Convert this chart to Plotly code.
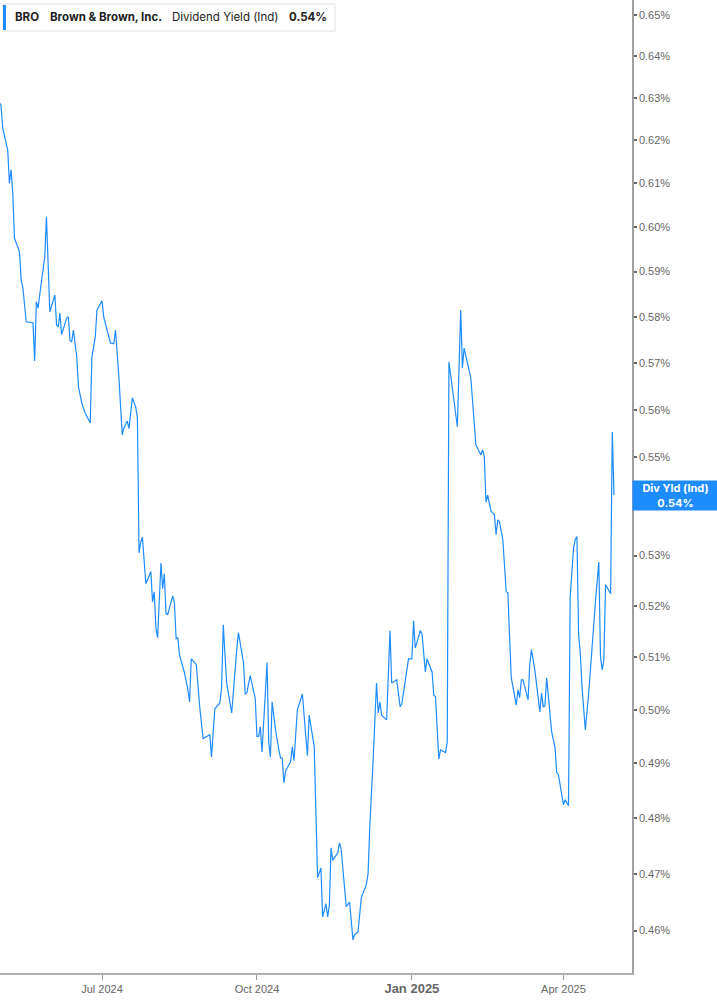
import numpy as np
import pandas as pd
import plotly.graph_objects as go

# BRO dividend yield (indicated), %
start_date = "2024-05-01"
days_since_start = [
    0, 1, 2, 5, 6, 7, 8, 9, 12, 13, 14, 16, 20, 21, 22, 23, 25, 27, 28, 30,
    33, 34, 35, 36, 37, 40, 41, 42, 43, 44, 46, 47, 49, 51, 54, 55, 57, 58, 61, 62,
    64, 66, 68, 69, 71, 73, 74, 76, 77, 79, 81, 82, 83, 84, 85, 87, 90, 91, 92, 93,
    94, 96, 97, 98, 99, 100, 103, 104, 105, 106, 107, 110, 112, 113, 114, 117, 119, 121, 125, 126,
    128, 131, 132, 133, 135, 138, 141, 142, 145, 146, 147, 149, 152, 153, 154, 155, 156, 159, 160, 161,
    162, 164, 166, 167, 168, 169, 170, 173, 174, 175, 177, 180, 182, 183, 184, 187, 189, 191, 192, 194,
    195, 196, 197, 198, 201, 202, 203, 206, 208, 210, 211, 213, 215, 218, 219, 220, 222, 224, 225, 226,
    227, 230, 232, 233, 236, 238, 239, 241, 243, 245, 246, 247, 250, 251, 253, 254, 257, 258, 259, 261,
    262, 265, 266, 267, 269, 272, 274, 275, 276, 280, 283, 285, 286, 287, 288, 289, 290, 292, 294, 295,
    296, 297, 299, 301, 302, 304, 307, 308, 309, 310, 311, 314, 315, 316, 318, 321, 322, 323, 324, 325,
    328, 330, 331, 332, 335, 336, 338, 339, 341, 342, 343, 344, 345, 346, 348, 350, 352, 354, 356, 357,
    358, 359, 360, 363, 364, 365,
]
div_yield = [
    0.6288, 0.6283, 0.6229, 0.6177, 0.6100, 0.6131, 0.6078, 0.5975, 0.5944, 0.5881,
    0.5864, 0.5789, 0.5787, 0.5704, 0.5833, 0.5819, 0.5877, 0.5933, 0.6023, 0.5811,
    0.5848, 0.5782, 0.5778, 0.5808, 0.5761, 0.5797, 0.5800, 0.5748, 0.5745, 0.5771,
    0.5713, 0.5649, 0.5614, 0.5593, 0.5572, 0.5713, 0.5756, 0.5815, 0.5835, 0.5800,
    0.5771, 0.5743, 0.5741, 0.5771, 0.5670, 0.5547, 0.5562, 0.5576, 0.5560, 0.5625,
    0.5606, 0.5583, 0.5305, 0.5327, 0.5337, 0.5244, 0.5268, 0.5208, 0.5228, 0.5157,
    0.5138, 0.5285, 0.5234, 0.5264, 0.5185, 0.5183, 0.5220, 0.5206, 0.5136, 0.5138,
    0.5105, 0.5070, 0.5038, 0.5015, 0.5097, 0.5086, 0.5006, 0.4946, 0.4953, 0.4912,
    0.5002, 0.5013, 0.5042, 0.5163, 0.5051, 0.4994, 0.5115, 0.5148, 0.5090, 0.5030,
    0.5032, 0.5065, 0.5021, 0.4950, 0.4950, 0.4968, 0.4921, 0.5090, 0.4938, 0.4912,
    0.5015, 0.4963, 0.4925, 0.4910, 0.4910, 0.4864, 0.4886, 0.4903, 0.4931, 0.4905,
    0.5000, 0.5030, 0.4950, 0.4914, 0.4990, 0.4931, 0.4693, 0.4710, 0.4624, 0.4647,
    0.4624, 0.4645, 0.4746, 0.4724, 0.4737, 0.4755, 0.4744, 0.4642, 0.4650, 0.4584,
    0.4593, 0.4598, 0.4658, 0.4681, 0.4701, 0.4784, 0.4907, 0.5051, 0.4994, 0.5015,
    0.4990, 0.4981, 0.5152, 0.5051, 0.5057, 0.5006, 0.5011, 0.5057, 0.5097, 0.5097,
    0.5171, 0.5118, 0.5152, 0.5146, 0.5072, 0.5097, 0.5072, 0.5028, 0.5025, 0.4908,
    0.4925, 0.4920, 0.4940, 0.5702, 0.5649, 0.5564, 0.5815, 0.5689, 0.5732, 0.5668,
    0.5526, 0.5512, 0.5505, 0.5516, 0.5501, 0.5408, 0.5422, 0.5390, 0.5382, 0.5342,
    0.5372, 0.5368, 0.5332, 0.5228, 0.5226, 0.5061, 0.5009, 0.5038, 0.5023, 0.5057,
    0.5057, 0.5019, 0.5086, 0.5115, 0.5076, 0.4996, 0.5032, 0.5006, 0.5007, 0.5061,
    0.4959, 0.4929, 0.4883, 0.4879, 0.4824, 0.4833, 0.4822, 0.5218, 0.5315, 0.5332,
    0.5338, 0.5144, 0.5109, 0.5044, 0.4962, 0.5032, 0.5130, 0.5208, 0.5287, 0.5101,
    0.5076, 0.5095, 0.5242, 0.5224, 0.5553, 0.5422,
]

y_ticks = [0.46, 0.47, 0.48, 0.49, 0.50, 0.51, 0.52, 0.53, 0.54, 0.55,
           0.56, 0.57, 0.58, 0.59, 0.60, 0.61, 0.62, 0.63, 0.64, 0.65]
x_ticks = ["2024-07-01", "2024-10-01", "2025-01-01", "2025-04-01"]
x_tick_labels = ["Jul 2024", "Oct 2024",
                 "<span style='font-size:13px'><b>Jan 2025</b></span>", "Apr 2025"]

dates = pd.Timestamp(start_date) + pd.to_timedelta(days_since_start, unit="D")
last_val = div_yield[-1]

blue = "#1e8cff"

fig = go.Figure()
fig.add_trace(go.Scatter(x=dates, y=div_yield, mode="lines",
                         line=dict(color=blue, width=1.2),
                         hoverinfo="skip", showlegend=False))

fig.update_layout(
    width=717, height=1005,
    margin=dict(l=0, r=85, t=0, b=32),
    plot_bgcolor="white", paper_bgcolor="white",
    font=dict(family="Liberation Sans, Arial", size=11, color="#666"),
    showlegend=False,
)

fig.update_xaxes(
    type="date",
    range=["2024-05-01 10:00", "2025-05-11 17:00"],
    tickvals=x_ticks, ticktext=x_tick_labels,
    showgrid=False, zeroline=False,
    showline=True, linecolor="#b0b0b0", linewidth=2,
    ticks="outside", ticklen=5, tickcolor="#999", tickwidth=1,
    tickfont=dict(size=11, color="#666"),
)

fig.update_yaxes(
    type="log", side="right",
    range=[np.log10(0.4527), np.log10(0.6537)],
    tickvals=y_ticks, ticktext=[f"{v:.2f}%" for v in y_ticks],
    showgrid=False, zeroline=False,
    showline=True, linecolor="#a0a0a0", linewidth=1.5,
    ticks="outside", ticklen=3, tickcolor="#666", tickwidth=1.5,
    tickfont=dict(size=11, color="#666"),
)

# header box, top left
fig.add_shape(type="rect", xref="paper", yref="paper",
              x0=3 / 632, x1=335 / 632, y0=1 - 31 / 973, y1=1 - 4 / 973,
              line=dict(color="#e2e2e2", width=1), fillcolor="white", layer="above")
fig.add_shape(type="rect", xref="paper", yref="paper",
              x0=3 / 632, x1=6 / 632, y0=1 - 30 / 973, y1=1 - 5 / 973,
              line=dict(width=0), fillcolor=blue, layer="above")

header = [
    (13, "<b>BRO</b>"),
    (48, "<b>Brown & Brown, Inc.</b>"),
    (170, "Dividend Yield (Ind)"),
    (287, "<b>0.54%</b>"),
]
for px, txt in header:
    fig.add_annotation(x=px / 632, y=1 - 17 / 973, xref="paper", yref="paper",
                       text=txt, showarrow=False, xanchor="left", yanchor="middle",
                       font=dict(family="Inter, Roboto, Arial", size=11.5, color="#222"))

# current value flag on the right axis
fig.add_annotation(x=1, y=np.log10(last_val), xref="paper", yref="y",
                   text=f"<b>Div Yld (Ind)</b><br><b>{last_val:.2f}%</b>",
                   showarrow=False, xanchor="left", yanchor="middle",
                   width=83, height=27, borderpad=1, align="center",
                   bgcolor=blue, font=dict(family="Inter, Roboto, Arial", size=11, color="white"))

fig.write_html("out.html", config={"displayModeBar": False},
               post_script="document.body.style.margin='0';"
               "document.body.style.overflow='hidden';")
